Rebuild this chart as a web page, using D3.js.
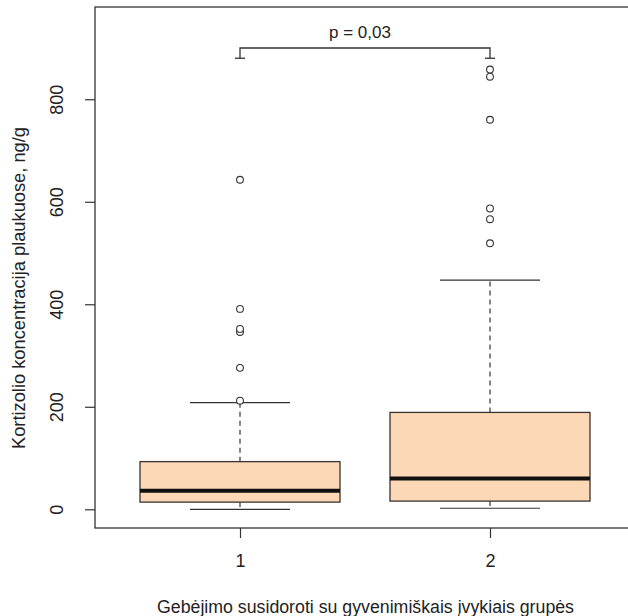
<!DOCTYPE html>
<html><head><meta charset="utf-8">
<script src="https://cdn.jsdelivr.net/npm/d3@7"></script>
<style>body{margin:0;background:#fff}svg{display:block}text{font-family:"Liberation Sans",Arial,sans-serif;fill:#222}</style>
</head><body>
<svg id="c" width="628" height="616"></svg>
<script>
const groups = ["1", "2"];
const lowWhisker = [0, 2];
const q1 = [14, 16];
const medians = [36, 60];
const q3 = [93, 189];
const highWhisker = [208, 447];
const outliers = [
  [212, 276, 346, 352, 391, 643],
  [519, 566, 587, 760, 844, 858]
];
const yTicks = [0, 200, 400, 600, 800];
const yTitle = "Kortizolio koncentracija plaukuose, ng/g";
const xTitle = "Gebėjimo susidoroti su gyvenimiškais įvykiais grupės";
const pLabel = "p = 0,03";
const bracketY = 900, bracketEnd = 880;

const svg = d3.select("#c");
const x = d3.scaleLinear().domain([0.42, 2.58]).range([95, 635]);
const y = d3.scaleLinear().domain([-36.5, 980]).range([528, 7]);
const ink = "#333";

// frame
svg.append("rect").attr("x", x(0.42)).attr("y", y(980)).attr("width", x(2.58) - x(0.42)).attr("height", y(-36.5) - y(980))
  .attr("fill", "none").attr("stroke", ink).attr("stroke-width", 1.3);

// y axis
const ya = svg.append("g").attr("transform", `translate(${x(0.42)},0)`)
  .call(d3.axisLeft(y).tickValues(yTicks).tickSize(10).tickPadding(0).tickFormat(d3.format("d")));
ya.select(".domain").remove();
ya.selectAll("line").attr("stroke", ink).attr("stroke-width", 1.2);
ya.selectAll("text").attr("x", 0).attr("y", 0).attr("dy", null)
  .attr("text-anchor", "middle").style("font-size", "18px")
  .attr("transform", `translate(${63 - x(0.42)},0) rotate(-90)`);

// x axis
const xa = svg.append("g").attr("transform", `translate(0,${y(-36.5)})`)
  .call(d3.axisBottom(x).tickValues([1, 2]).tickSize(10).tickPadding(0).tickFormat((d, i) => groups[i]));
xa.select(".domain").remove();
xa.selectAll("line").attr("stroke", ink).attr("stroke-width", 1.2);
xa.selectAll("text").style("font-size", "18px").attr("dy", null).attr("y", 39);

// boxes
groups.forEach((g, i) => {
  const c = i + 1;
  const gg = svg.append("g");
  gg.append("line").attr("x1", x(c)).attr("x2", x(c)).attr("y1", y(q3[i])).attr("y2", y(highWhisker[i]))
    .attr("stroke", ink).attr("stroke-width", 1.2).attr("stroke-dasharray", "5,4");
  gg.append("line").attr("x1", x(c)).attr("x2", x(c)).attr("y1", y(q1[i])).attr("y2", y(lowWhisker[i]))
    .attr("stroke", ink).attr("stroke-width", 1.2).attr("stroke-dasharray", "5,4");
  [highWhisker[i], lowWhisker[i]].forEach(v => gg.append("line")
    .attr("x1", x(c - 0.2)).attr("x2", x(c + 0.2)).attr("y1", y(v)).attr("y2", y(v))
    .attr("stroke", ink).attr("stroke-width", 1.2));
  gg.append("rect").attr("x", x(c - 0.4)).attr("width", x(c + 0.4) - x(c - 0.4))
    .attr("y", y(q3[i])).attr("height", y(q1[i]) - y(q3[i]))
    .attr("fill", "#FDD8B6").attr("stroke", "#3a3330").attr("stroke-width", 1.3);
  gg.append("line").attr("x1", x(c - 0.4)).attr("x2", x(c + 0.4)).attr("y1", y(medians[i])).attr("y2", y(medians[i]))
    .attr("stroke", "#111").attr("stroke-width", 4);
  gg.selectAll("circle").data(outliers[i]).join("circle")
    .attr("cx", x(c)).attr("cy", d => y(d)).attr("r", 3.4)
    .attr("fill", "#fff").attr("stroke", ink).attr("stroke-width", 1.1);
});

// bracket
const br = svg.append("g").attr("stroke", ink).attr("stroke-width", 1.3).attr("fill", "none");
br.append("path").attr("d", `M${x(1)},${y(bracketEnd)}V${y(bracketY)}H${x(2)}V${y(bracketEnd)}`);
[1, 2].forEach(c => br.append("line").attr("x1", x(c) - 5).attr("x2", x(c) + 5)
  .attr("y1", y(bracketEnd)).attr("y2", y(bracketEnd)));
svg.append("text").attr("x", x(1.48)).attr("y", y(bracketY) - 10).attr("text-anchor", "middle")
  .style("font-size", "17px").text(pLabel);

// titles
svg.append("text").attr("transform", `translate(25,${(127 + 449) / 2}) rotate(-90)`).attr("text-anchor", "middle")
  .style("font-size", "18px").attr("textLength", 322).attr("lengthAdjust", "spacingAndGlyphs").text(yTitle);
svg.append("text").attr("x", 365.5).attr("y", 613).attr("text-anchor", "middle")
  .style("font-size", "17.5px").attr("textLength", 417).attr("lengthAdjust", "spacingAndGlyphs").text(xTitle);
</script>
</body></html>
